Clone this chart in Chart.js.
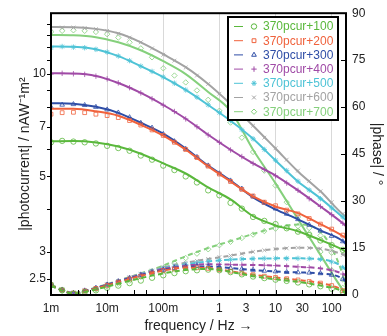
<!DOCTYPE html>
<html>
<head>
<meta charset="utf-8">
<script src="https://cdn.jsdelivr.net/npm/chart.js@4.4.0/dist/chart.umd.min.js"></script>
<style>
  html, body { margin: 0; padding: 0; background: #fff; }
  #wrap { width: 387px; height: 336px; }
</style>
</head>
<body>
<div id="wrap"><canvas id="chart" width="387" height="336"></canvas></div>
<script>
// series names, colours and marker shapes
var seriesNames = ['370pcur+100', '370pcur+200', '370pcur+300', '370pcur+400', '370pcur+500', '370pcur+600', '370pcur+700'];
var seriesColors = ['#5ab83c', '#f0623c', '#2e4da6', '#a04aa6', '#4ec3d6', '#a3a3a3', '#85d07c'];
var seriesMarkers = ['circle', 'rect', 'triangle', 'cross', 'star', 'crossRot', 'rectRot'];

// measured frequencies (Hz) and fit frequencies
var freqPts = [0.001, 0.00158, 0.00251, 0.00398, 0.00631, 0.01, 0.0158, 0.0251, 0.0398, 0.0631, 0.1, 0.158, 0.251, 0.398, 0.631, 1, 1.58, 2.51, 3.98, 6.31, 10, 15.8, 25.1, 39.8, 63.1, 100, 158];
var freqFit = [0.001, 0.00251, 0.00631, 0.0158, 0.0398, 0.1, 0.251, 0.631, 1.58, 3.98, 10, 25.1, 63.1, 158, 180];

// |photocurrent| fits (nA W^-1 m^2)
var magFit100 = [6.34, 6.35, 6.29, 6.12, 5.83, 5.46, 5.10, 4.64, 4.28, 3.82, 3.59, 3.45, 3.25, 3.04, 3.00];
var magFit200 = [7.90, 7.90, 7.77, 7.54, 7.09, 6.59, 5.99, 5.35, 4.83, 4.37, 4.08, 3.90, 3.62, 3.34, 3.29];
var magFit300 = [8.21, 8.18, 8.01, 7.69, 7.19, 6.68, 6.04, 5.38, 4.86, 4.34, 4.00, 3.74, 3.47, 3.23, 3.16];
var magFit400 = [10.05, 10.03, 9.87, 9.41, 8.80, 8.11, 7.39, 6.63, 5.99, 5.46, 5.03, 4.55, 4.08, 3.64, 3.57];
var magFit500 = [12.05, 12.03, 11.83, 11.29, 10.55, 9.80, 8.98, 8.11, 7.29, 6.45, 5.57, 4.83, 4.31, 3.79, 3.72];
var magFit600 = [13.75, 13.74, 13.58, 13.18, 12.40, 11.44, 10.48, 9.35, 8.17, 7.05, 6.04, 5.17, 4.52, 3.87, 3.81];
var magFit700 = [13.03, 13.00, 12.83, 12.40, 11.75, 10.91, 10.00, 8.86, 7.79, 5.99, 4.77, 3.74, 2.94, 2.32, 2.26];

// |photocurrent| measured
var magPts100 = [6.30, 6.36, 6.33, 6.30, 6.25, 6.15, 6.06, 5.95, 5.76, 5.60, 5.38, 5.22, 5.00, 4.80, 4.55, 4.40, 4.18, 4.02, 3.80, 3.70, 3.62, 3.52, 3.44, 3.36, 3.24, 3.14, 3.04];
var magPts200 = [7.62, 7.70, 7.72, 7.70, 7.62, 7.55, 7.45, 7.30, 7.08, 6.85, 6.60, 6.30, 6.00, 5.68, 5.36, 5.08, 4.83, 4.58, 4.38, 4.20, 4.10, 3.98, 3.88, 3.76, 3.62, 3.50, 3.36];
var magPts300 = [8.00, 8.12, 8.15, 8.10, 8.00, 7.86, 7.70, 7.46, 7.18, 6.95, 6.66, 6.34, 6.02, 5.70, 5.38, 5.10, 4.86, 4.60, 4.36, 4.18, 4.02, 3.88, 3.74, 3.60, 3.46, 3.34, 3.22];
var magPts400 = [10.0, 10.05, 10.02, 9.98, 9.86, 9.68, 9.42, 9.12, 8.80, 8.46, 8.10, 7.76, 7.38, 7.00, 6.62, 6.30, 5.98, 5.72, 5.46, 5.24, 5.02, 4.78, 4.55, 4.30, 4.08, 3.86, 3.64];
var magPts500 = [11.95, 12.05, 12.0, 11.95, 11.82, 11.6, 11.3, 10.95, 10.55, 10.18, 9.8, 9.4, 8.98, 8.55, 8.12, 7.7, 7.3, 6.86, 6.45, 6.0, 5.58, 5.2, 4.84, 4.56, 4.3, 4.04, 3.8];
var magPts600 = [13.6, 13.7, 13.7, 13.65, 13.55, 13.4, 13.15, 12.8, 12.4, 11.9, 11.4, 10.95, 10.45, 9.9, 9.35, 8.75, 8.15, 7.6, 7.05, 6.5, 6.05, 5.6, 5.2, 4.85, 4.52, 4.2, 3.88];
var magPts700 = [13.3, 13.4, 13.45, 13.4, 13.3, 13.1, 12.8, 12.4, 11.9, 11.2, 10.4, 9.9, 9.45, 8.95, 8.4, 7.8, 7.2, 6.5, 5.9, 5.2, 4.7, 4.2, 3.8, 3.4, 3.0, 2.65, 2.35];

// |phase| fits (degrees)
var phaseFit100 = [2.9, 0.5, 1.8, 3.6, 5.4, 6.9, 8.0, 8.3, 7.4, 6.0, 5.0, 4.2, 3.0, 1.2, 0.5];
var phaseFit200 = [3.0, 0.6, 2.1, 4.1, 6.1, 7.8, 8.7, 8.6, 7.6, 6.5, 5.6, 4.8, 3.8, 1.5, 0.6];
var phaseFit300 = [3.0, 0.6, 2.2, 4.3, 6.3, 8.0, 9.0, 9.1, 8.6, 8.0, 7.5, 7.2, 6.9, 5.2, 4.2];
var phaseFit400 = [3.0, 0.6, 2.2, 4.4, 6.5, 8.3, 9.4, 9.8, 9.7, 9.6, 9.4, 9.0, 8.5, 6.8, 6.2];
var phaseFit500 = [3.0, 0.6, 2.2, 4.4, 6.6, 8.5, 9.8, 10.7, 11.3, 11.6, 11.7, 11.7, 11.4, 9.0, 7.9];
var phaseFit600 = [3.0, 0.6, 2.2, 4.5, 6.8, 8.8, 10.3, 11.5, 12.6, 13.8, 14.7, 15.1, 14.8, 13.0, 12.6];
var phaseFit700 = [3.2, 0.8, 2.4, 4.6, 6.9, 9.4, 12.4, 15.0, 17.2, 19.5, 21.5, 22.5, 20.2, 6.5, 2.5];

// |phase| measured
var phasePts100 = [3.2, 1.5, 0.4, 0.9, 1.5, 2.3, 3.0, 3.8, 4.6, 5.5, 6.3, 7.0, 7.6, 7.9, 8.1, 7.9, 7.3, 6.6, 5.9, 5.4, 4.9, 4.5, 4.0, 3.4, 2.8, 2.0, 1.0];
var phasePts200 = [3.3, 1.6, 0.6, 1.3, 2.1, 3.1, 4.1, 5.1, 6.0, 7.0, 7.8, 8.3, 8.6, 8.7, 8.5, 8.1, 7.6, 7.0, 6.5, 6.0, 5.6, 5.2, 4.8, 4.3, 3.8, 3.0, 1.4];
var phasePts300 = [3.4, 1.7, 0.6, 1.4, 2.2, 3.3, 4.3, 5.3, 6.3, 7.2, 8.0, 8.6, 9.0, 9.2, 9.1, 8.9, 8.6, 8.3, 8.0, 7.7, 7.5, 7.3, 7.2, 7.1, 6.9, 6.4, 5.0];
var phasePts400 = [3.4, 1.7, 0.6, 1.4, 2.2, 3.3, 4.4, 5.5, 6.5, 7.5, 8.3, 8.9, 9.4, 9.7, 9.8, 9.8, 9.7, 9.6, 9.6, 9.5, 9.4, 9.2, 9.0, 8.8, 8.5, 7.9, 6.7];
var phasePts500 = [3.4, 1.7, 0.6, 1.4, 2.2, 3.3, 4.4, 5.5, 6.6, 7.6, 8.5, 9.2, 9.8, 10.3, 10.7, 11.0, 11.3, 11.5, 11.6, 11.7, 11.7, 11.7, 11.7, 11.6, 11.4, 10.6, 8.8];
var phasePts600 = [3.4, 1.7, 0.6, 1.4, 2.2, 3.4, 4.5, 5.7, 6.8, 7.8, 8.8, 9.6, 10.3, 10.9, 11.5, 12.1, 12.6, 13.2, 13.8, 14.3, 14.7, 14.9, 15.1, 15.0, 14.8, 14.3, 12.8];
var phasePts700 = [3.0, 1.4, 0.5, 1.0, 1.8, 2.7, 3.6, 4.6, 5.8, 7.2, 8.6, 10.2, 11.8, 13.2, 14.6, 15.9, 17.0, 18.2, 19.3, 20.4, 21.2, 21.8, 22.0, 21.4, 19.0, 13.5, 5.0];

// axis ticks
var xTickVals = [0.001, 0.01, 0.1, 1, 3, 10, 30, 100];
var xTickLabels = ['1m', '10m', '100m', '1', '3', '10', '30', '100'];
var xGridVals = [0.01, 0.1, 1, 10, 100];
var xMinorTicks = [0.003, 0.005, 0.01, 0.03, 0.05, 0.1, 0.3, 0.5, 1, 3, 5, 10, 30, 50, 100];
var yTickVals = [2.5, 3, 4, 5, 6, 7, 8, 9, 10, 11, 12, 13, 14];
var yLabelVals = [2.5, 3, 5, 7, 10];
var phaseTickVals = [0, 15, 30, 45, 60, 75, 90];

var magFit = [magFit100, magFit200, magFit300, magFit400, magFit500, magFit600, magFit700];
var magPts = [magPts100, magPts200, magPts300, magPts400, magPts500, magPts600, magPts700];
var phaseFit = [phaseFit100, phaseFit200, phaseFit300, phaseFit400, phaseFit500, phaseFit600, phaseFit700];
var phasePts = [phasePts100, phasePts200, phasePts300, phasePts400, phasePts500, phasePts600, phasePts700];

function pairs(xs, ys) {
  return ys.map(function (v, i) { return {x: xs[i], y: v}; });
}

var datasets = [];
for (var s = 0; s < seriesNames.length; s++) {
  var col = seriesColors[s];
  datasets.push({
    label: seriesNames[s] + ' fit', data: pairs(freqFit, magFit[s]), yAxisID: 'y',
    borderColor: col, borderWidth: 2, pointRadius: 0, cubicInterpolationMode: 'monotone', fill: false
  });
  datasets.push({
    label: seriesNames[s], data: pairs(freqPts, magPts[s]), yAxisID: 'y', showLine: false,
    borderColor: col, backgroundColor: 'rgba(0,0,0,0)', pointStyle: seriesMarkers[s],
    pointRadius: 2.7, pointBorderWidth: 0.8, pointBackgroundColor: 'rgba(0,0,0,0)', pointBorderColor: col
  });
  datasets.push({
    label: seriesNames[s] + ' phase fit', data: pairs(freqFit, phaseFit[s]), yAxisID: 'y1',
    borderColor: col, borderWidth: 2, borderDash: [5, 3.5], pointRadius: 0, cubicInterpolationMode: 'monotone', fill: false
  });
  datasets.push({
    label: seriesNames[s] + ' phase', data: pairs(freqPts, phasePts[s]), yAxisID: 'y1', showLine: false,
    borderColor: col, backgroundColor: 'rgba(0,0,0,0)', pointStyle: seriesMarkers[s],
    pointRadius: 2.7, pointBorderWidth: 0.8, pointBackgroundColor: 'rgba(0,0,0,0)', pointBorderColor: col
  });
}

var fontFam = '"Liberation Sans", Arial, Helvetica, sans-serif';

var framePlugin = {
  id: 'frame',
  afterDatasetsDraw: function (chart) {
    var ctx = chart.ctx, a = chart.chartArea, sc = chart.scales;
    ctx.save();
    ctx.strokeStyle = '#000';
    ctx.lineWidth = 1;
    ctx.beginPath();
    xMinorTicks.forEach(function (v) {
      var px = Math.round(sc.x.getPixelForValue(v)) + 0.5;
      ctx.moveTo(px, a.bottom); ctx.lineTo(px, a.bottom - 5);
    });
    yTickVals.forEach(function (v) {
      var py = Math.round(sc.y.getPixelForValue(v)) + 0.5;
      ctx.moveTo(a.left - 4, py); ctx.lineTo(a.left, py);
    });
    phaseTickVals.forEach(function (v) {
      var py = Math.round(sc.y1.getPixelForValue(v)) + 0.5;
      ctx.moveTo(a.right, py); ctx.lineTo(a.right - 5, py);
    });
    ctx.stroke();
    ctx.lineWidth = 2;
    ctx.strokeRect(a.left, a.top, a.right - a.left, a.bottom - a.top);
    ctx.restore();
  },
  afterDraw: function (chart) {
    // legend box with line sample, marker and coloured text
    var ctx = chart.ctx;
    var bx = 228, by = 17, bw = 110, bh = 103;
    ctx.save();
    ctx.fillStyle = '#fff';
    ctx.fillRect(bx, by, bw, bh);
    ctx.strokeStyle = '#000';
    ctx.lineWidth = 2;
    ctx.strokeRect(bx, by, bw, bh);
    ctx.font = '12px ' + fontFam;
    ctx.textBaseline = 'middle';
    for (var i = 0; i < seriesNames.length; i++) {
      var yy = by + 9.5 + i * 14.2;
      ctx.strokeStyle = seriesColors[i];
      ctx.lineWidth = 1;
      ctx.beginPath();
      ctx.moveTo(234, yy); ctx.lineTo(243, yy);
      ctx.stroke();
      ctx.fillStyle = 'rgba(0,0,0,0)';
      Chart.helpers.drawPoint(ctx, {pointStyle: seriesMarkers[i], radius: 2.7, rotation: 0, borderWidth: 0.8}, 254, yy);
      ctx.fillStyle = seriesColors[i];
      ctx.fillText(seriesNames[i], 263, yy + 0.5);
    }
    ctx.restore();
  }
};

new Chart(document.getElementById('chart').getContext('2d'), {
  type: 'line',
  data: {datasets: datasets},
  plugins: [framePlugin],
  options: {
    responsive: false,
    animation: false,
    devicePixelRatio: 1,
    layout: {padding: {top: 9, left: 0, right: 0, bottom: 0}},
    plugins: {legend: {display: false}, tooltip: {enabled: false}},
    scales: {
      x: {
        type: 'logarithmic', min: 0.001, max: 180,
        afterBuildTicks: function (scale) {
          scale.ticks = xTickVals.map(function (v) { return {value: v}; });
        },
        afterFit: function (scale) { scale.height = 41; },
        ticks: {
          autoSkip: false, maxRotation: 0, padding: 6, color: '#222',
          font: {size: 12, family: fontFam},
          callback: function (value, index) { return xTickLabels[index]; }
        },
        grid: {
          drawTicks: false,
          color: function (c) {
            return (c.tick && xGridVals.indexOf(c.tick.value) >= 0) ? '#d9d9d9' : 'rgba(0,0,0,0)';
          }
        },
        border: {display: false},
        title: {display: true, text: 'frequency / Hz \u2192', color: '#222', font: {size: 14, family: fontFam}, padding: {top: 0, bottom: 1}}
      },
      y: {
        type: 'logarithmic', position: 'left', min: 2.24, max: 15.1,
        afterBuildTicks: function (scale) {
          scale.ticks = yTickVals.map(function (v) { return {value: v}; });
        },
        afterFit: function (scale) { scale.width = 51; },
        ticks: {
          autoSkip: false, padding: 5, color: '#222',
          font: {size: 12, family: fontFam},
          callback: function (value) { return yLabelVals.indexOf(value) >= 0 ? String(value) : ''; }
        },
        grid: {drawOnChartArea: false, drawTicks: false},
        border: {display: false},
        title: {display: true, text: '|photocurrent| / nAW\u207B\u00B9m\u00B2', color: '#222', font: {size: 14, family: fontFam}, padding: {top: 17, bottom: 0}}
      },
      y1: {
        type: 'linear', position: 'right', min: 0, max: 90,
        afterBuildTicks: function (scale) {
          scale.ticks = phaseTickVals.map(function (v) { return {value: v}; });
        },
        afterFit: function (scale) { scale.width = 41; },
        ticks: {padding: 6, color: '#222', font: {size: 12, family: fontFam}},
        grid: {drawOnChartArea: false, drawTicks: false},
        border: {display: false},
        title: {display: true, text: '|phase| / \u00B0', color: '#222', font: {size: 14, family: fontFam}, padding: {top: 2, bottom: 0}}
      }
    }
  }
});
</script>
</body>
</html>
